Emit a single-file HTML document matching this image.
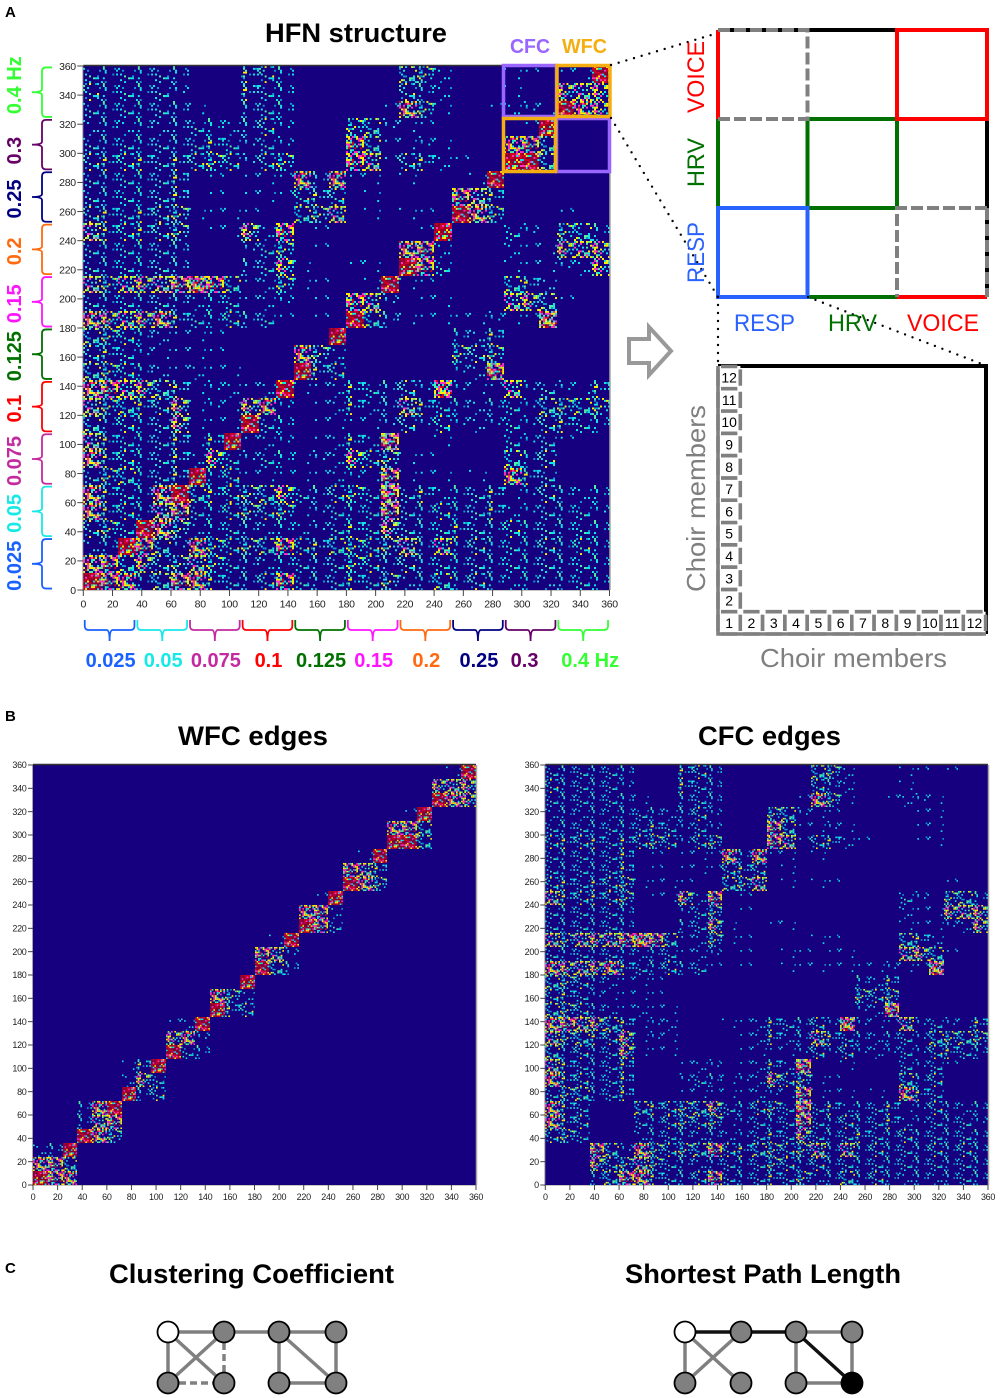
<!DOCTYPE html>
<html lang="en">
<head>
<meta charset="utf-8">
<title>HFN structure figure</title>
<style>
html,body{margin:0;padding:0;background:#fff;}
svg{display:block;font-family:"Liberation Sans",sans-serif;}
.title{font-weight:bold;font-size:27px;fill:#000;}
.panel{font-weight:bold;font-size:15px;fill:#000;}
.big{font-size:24px;}
.grey{font-size:26px;fill:#7f7f7f;}
</style>
</head>
<body>
<svg id="figure" xmlns="http://www.w3.org/2000/svg" width="1000" height="1398" viewBox="0 0 1000 1398">
  <defs id="defs"></defs>
  <rect x="0" y="0" width="1000" height="1398" fill="#fff"/>

  <text class="panel" x="5" y="17">A</text>
  <text class="panel" x="5" y="721">B</text>
  <text class="panel" x="5" y="1273">C</text>

  <text class="title" x="265" y="42" textLength="182" lengthAdjust="spacingAndGlyphs">HFN structure</text>
  <text class="title" x="178" y="745" textLength="150" lengthAdjust="spacingAndGlyphs">WFC edges</text>
  <text class="title" x="698" y="745" textLength="143" lengthAdjust="spacingAndGlyphs">CFC edges</text>
  <text class="title" x="109" y="1283" textLength="285" lengthAdjust="spacingAndGlyphs">Clustering Coefficient</text>
  <text class="title" x="625" y="1283" textLength="276" lengthAdjust="spacingAndGlyphs">Shortest Path Length</text>

  <g id="plots"></g>
  <g id="brackets"></g>

  <!-- highlight boxes on panel A -->
  <g fill="none" stroke-width="3.5">
    <rect x="503.5" y="65.5" width="53" height="51" stroke="#9966ff"/>
    <rect x="556.5" y="118.5" width="53" height="53" stroke="#9966ff"/>
    <rect x="557" y="65.5" width="53" height="51" stroke="#f5ae10"/>
    <rect x="503.5" y="118.5" width="52" height="53" stroke="#f5ae10"/>
  </g>
  <text x="510" y="53" font-weight="bold" font-size="20" fill="#9966ff" textLength="40" lengthAdjust="spacingAndGlyphs">CFC</text>
  <text x="562" y="53" font-weight="bold" font-size="20" fill="#f5ae10" textLength="45" lengthAdjust="spacingAndGlyphs">WFC</text>

  <!-- 3x3 modality grid -->
  <g fill="none" stroke-width="4">
    <path d="M718 30H987M987 30V297" stroke="#000"/>
    <path d="M718 30V119" stroke="#ff0000"/>
    <path d="M718 119V208" stroke="#007000"/>
    <path d="M807.5 297H897" stroke="#007000"/>
    <path d="M897 297H987" stroke="#ff0000"/>
    <rect x="807.5" y="119" width="89.5" height="89" stroke="#007000"/>
    <rect x="718" y="208" width="89.5" height="89" stroke="#2a62ff"/>
    <rect x="897" y="30" width="90" height="89" stroke="#ff0000"/>
    <path d="M718 30H807.5V119H718" stroke="#808080" stroke-dasharray="12 4"/>
    <path d="M987 208H897V297M987 208V297" stroke="#808080" stroke-dasharray="12 4"/>
  </g>

  <!-- dotted zoom connectors -->
  <g fill="none" stroke="#000" stroke-width="2.4" stroke-linecap="round" stroke-dasharray="0 8">
    <path d="M611 65L718 33"/>
    <path d="M611 118L718 297"/>
    <path d="M718 297V366"/>
    <path d="M808 297L987 366"/>
  </g>

  <text class="big" transform="translate(704,113) rotate(-90)" fill="#ff0000" textLength="72" lengthAdjust="spacingAndGlyphs">VOICE</text>
  <text class="big" transform="translate(704,187) rotate(-90)" fill="#007000" textLength="49" lengthAdjust="spacingAndGlyphs">HRV</text>
  <text class="big" transform="translate(704,283) rotate(-90)" fill="#2a62ff" textLength="61" lengthAdjust="spacingAndGlyphs">RESP</text>
  <text class="big" x="734" y="331" fill="#2a62ff" textLength="61" lengthAdjust="spacingAndGlyphs">RESP</text>
  <text class="big" x="828" y="331" fill="#007000" textLength="49" lengthAdjust="spacingAndGlyphs">HRV</text>
  <text class="big" x="907" y="331" fill="#ff0000" textLength="72" lengthAdjust="spacingAndGlyphs">VOICE</text>

  <polygon points="629,339 649,339 649,327 671,351 649,375 649,363 629,363" fill="#fff" stroke="#999" stroke-width="4"/>

  <!-- choir member matrix -->
  <path d="M718 366H986V634" fill="none" stroke="#000" stroke-width="4"/>
  <g id="choir"></g>
  <text class="grey" transform="translate(705,592) rotate(-90)" textLength="187" lengthAdjust="spacingAndGlyphs">Choir members</text>
  <text class="grey" x="760" y="667" textLength="187" lengthAdjust="spacingAndGlyphs">Choir members</text>

  <g id="graphs"></g>
</svg>

<script>
// Chart data -----------------------------------------------------------------
const axisTicks = [0,20,40,60,80,100,120,140,160,180,200,220,240,260,280,300,320,340,360];
const bandNames = ['0.025','0.05','0.075','0.1','0.125','0.15','0.2','0.25','0.3','0.4 Hz'];
const bandColors = ['#1a62ff','#18e8e8','#c42aa0','#ff0000','#007000','#ff14ff','#ff6a10','#000080','#660066','#33ff33'];
const choirMembers = [1,2,3,4,5,6,7,8,9,10,11,12];

// Within-frequency density per band: 3x3 (modality) blocks, rows bottom to top.
const wfcBands = [
  [[9,7,7],[7,7,5],[2,3,9]],
  [[9,7,5],[3,6,7],[3,7,9]],
  [[9,3,4],[2,6,3],[1,4,9]],
  [[9,3,3],[6,7,2],[1,2,9]],
  [[9,4,4],[7,5,2],[0,0,9]],
  [[9,5,3],[7,6,2],[0,1,9]],
  [[9,7,3],[7,7,2],[0,1,9]],
  [[9,7,5],[7,6,4],[0,1,9]],
  [[9,9,5],[7,7,5],[0,1,9]],
  [[9,7,6],[6,6,6],[0,1,9]]
];

// Cross-frequency density, one value per 12x12 node block. Rows listed top to bottom.
const cfcRows = [
  [3,3,3,3,3,3,0,0,0,4,4,3,0,0,0,0,0,0,5,5,2,0,0,0,1,1,0,1,0,0],
  [4,3,3,3,3,2,0,0,0,4,3,3,0,0,0,0,0,0,4,3,2,0,0,0,1,0,0,0,0,0],
  [3,3,3,3,3,3,1,0,0,3,3,3,0,0,0,0,0,1,7,5,1,0,0,1,2,2,1,0,0,0],
  [2,3,2,3,2,3,3,3,2,3,4,2,0,0,0,5,5,2,1,1,0,0,0,0,0,1,1,0,0,0],
  [3,3,3,3,3,3,3,4,3,2,3,2,0,0,0,7,5,1,1,2,1,0,0,0,0,1,1,0,0,0],
  [4,4,4,4,3,4,4,5,4,2,4,5,0,0,0,7,6,1,4,4,2,1,0,0,0,1,1,0,0,0],
  [3,3,3,3,3,4,0,1,0,1,1,1,7,3,7,1,1,0,1,0,0,0,0,0,0,0,0,0,0,0],
  [3,3,3,3,3,4,0,1,0,1,1,1,4,4,4,0,1,0,0,0,0,0,0,0,0,0,0,0,0,0],
  [4,4,3,4,4,5,1,1,1,1,0,0,5,5,6,0,1,0,1,1,0,0,0,0,0,0,0,1,0,0],
  [6,4,4,4,4,5,0,1,1,6,2,7,0,1,0,0,0,0,0,0,0,0,0,0,3,2,0,5,5,3],
  [3,3,3,3,3,3,0,0,0,2,3,5,0,1,0,0,0,0,0,0,0,0,0,0,2,1,1,6,6,6],
  [3,3,3,3,3,3,0,0,0,3,3,6,1,0,0,1,1,0,0,0,0,0,0,0,1,1,1,2,2,6],
  [6,5,6,6,6,7,8,7,5,1,2,5,1,1,0,0,0,0,1,1,0,0,0,0,5,4,2,0,0,0],
  [3,3,3,3,3,3,2,3,3,1,2,2,0,1,0,0,1,1,0,1,1,0,0,0,6,6,5,1,0,0],
  [7,6,6,6,7,4,3,3,4,3,3,1,0,1,0,0,1,1,1,1,1,1,1,2,1,1,8,0,0,0],
  [5,5,4,3,2,1,1,1,0,0,0,0,0,0,0,0,0,0,0,0,0,3,2,4,0,0,0,0,0,0],
  [4,4,3,2,1,1,1,1,0,0,0,0,0,0,0,0,0,0,0,0,0,5,4,5,0,0,0,0,0,0],
  [5,5,4,3,2,1,2,1,1,0,0,0,0,0,0,0,0,0,0,0,0,2,2,8,0,0,0,0,0,0],
  [7,7,6,6,5,4,1,2,2,0,0,0,1,1,2,4,3,3,4,2,8,2,1,1,6,2,3,2,1,4],
  [6,5,5,4,4,6,1,2,1,0,0,0,0,1,2,4,2,3,6,4,3,3,2,3,3,2,5,5,5,5],
  [5,3,4,3,3,6,1,1,1,0,0,0,0,1,1,1,1,2,4,2,4,2,2,2,3,2,4,4,3,3],
  [6,4,3,3,3,4,0,0,0,1,2,2,0,1,2,4,2,8,0,0,1,0,0,0,3,2,3,1,0,0],
  [7,4,4,3,3,4,0,0,0,2,3,3,1,2,2,6,4,5,1,1,0,0,0,0,5,3,4,0,0,0],
  [3,5,5,3,3,4,0,0,0,1,1,1,1,1,2,2,1,7,1,1,1,0,1,0,7,4,3,0,0,0],
  [7,4,3,0,0,0,5,4,4,5,5,6,3,3,4,5,3,8,3,4,2,3,3,4,1,2,4,3,2,3],
  [7,4,4,0,0,0,3,3,4,5,4,5,1,2,3,3,3,7,3,3,4,3,3,4,2,2,3,3,3,2],
  [4,5,3,0,0,0,2,3,3,3,2,3,2,2,3,4,3,6,3,3,3,4,3,3,4,3,3,3,3,3],
  [0,0,0,7,5,2,7,5,4,5,5,7,4,4,5,5,4,5,6,3,6,3,4,3,3,3,4,3,4,3],
  [0,0,0,6,4,5,6,5,3,3,2,3,3,3,3,5,4,3,4,3,3,3,3,3,3,3,3,3,3,3],
  [0,0,0,3,5,7,7,4,3,3,4,7,3,3,3,4,3,5,2,3,5,3,4,3,2,3,2,3,3,3]
];

// Graph nodes are (column, row) in a 4x2 lattice.
const clusteringEdges = [[0,0,1,0,'g'],[1,0,2,0,'g'],[2,0,3,0,'g'],[0,0,0,1,'g'],[0,0,1,1,'g'],[1,0,0,1,'g'],[1,0,1,1,'d'],[0,1,1,1,'d'],[2,0,2,1,'g'],[2,0,3,1,'g'],[3,0,3,1,'g'],[2,1,3,1,'g']];
const pathEdges = [[0,0,1,0,'k'],[1,0,2,0,'k'],[2,0,3,0,'g'],[0,0,0,1,'g'],[0,0,1,1,'g'],[1,0,0,1,'g'],[2,0,2,1,'g'],[2,0,3,1,'k'],[3,0,3,1,'g'],[2,1,3,1,'g']];

// Rendering helpers ----------------------------------------------------------
const SVGNS = 'http://www.w3.org/2000/svg';
const NAVY = '#170080';
const NODES = 360;
const NODES_PER_CELL = 12;

function make(tag, attrs, parent) {
  const el = document.createElementNS(SVGNS, tag);
  for (const k in attrs) el.setAttribute(k, attrs[k]);
  parent.appendChild(el);
  return el;
}

// Speckle texture: each density level gets a fill tile that mimics the noisy cells.
const CY='#10e4e4', TE='#0a9ad0', GR='#50f0a0', YE='#fbf000', PK='#ff30c0', RE='#d00020', DR='#8e0030';
const levelFill = [0,.035,.07,.14,.21,.30,.42,.58,.75,1];
const levelColors = [[],[CY,TE],[CY,TE,CY],[CY,TE,CY,GR],[CY,TE,GR,CY,YE],[CY,YE,TE,GR,CY],[CY,YE,PK,GR,YE],[YE,PK,CY,YE,GR,PK,RE],[YE,PK,CY,YE,RE,GR,PK],[DR,RE,DR,YE,RE,DR,PK,RE,CY,DR]];

// Fixed scatter order of tile positions (purely a visual texture, not data).
function tileOrder(total, seed) {
  const order = [];
  for (let i = 0; i < total; i++) order.push(i);
  let s = seed;
  for (let i = total - 1; i > 0; i--) {
    s = (Math.imul(s, 1103515245) + 12345) & 0x7fffffff;
    const j = (s >>> 8) % (i + 1);
    const t = order[i]; order[i] = order[j]; order[j] = t;
  }
  return order;
}

function buildTextures() {
  const defs = document.getElementById('defs');
  const G = 9, total = G * G;
  [4711, 90210].forEach(function (seed, variant) {
    const order = tileOrder(total, seed);
    for (let lvl = 1; lvl <= 9; lvl++) {
      const p = make('pattern', {id:'lvl'+lvl+'v'+variant, patternUnits:'objectBoundingBox', patternContentUnits:'objectBoundingBox', x:0, y:0, width:1, height:1}, defs);
      
      
      make('rect', {x:0, y:0, width:1, height:1, fill:NAVY}, p);
      const count = Math.round(levelFill[lvl] * total);
      const colors = levelColors[lvl];
      for (let k = 0; k < count; k++) {
        const idx = order[k];
        make('rect', {x:(idx % G)/G, y:Math.floor(idx / G)/G, width:1/G+.002, height:1/G+.002, fill:colors[k % colors.length]}, p);
      }
    }
  });
}

function cfcAt(r, c) { return cfcRows[cfcRows.length - 1 - r][c]; }
function wfcAt(r, c) {
  const band = Math.floor(r / 3);
  if (band !== Math.floor(c / 3)) return 0;
  return wfcBands[band][r % 3][c % 3];
}
function hfnAt(r, c) { return Math.max(wfcAt(r, c), cfcAt(r, c)); }

function xAxis(plot, v) { return plot.x0 + (plot.x1 - plot.x0) * v / NODES; }
function yAxis(plot, v) { return plot.y0 + (plot.y1 - plot.y0) * v / NODES; }

function fillFor(v, r, c) {
  const lvl = Math.max(0, Math.min(9, Math.round(v)));
  if (lvl === 0) return NAVY;
  return 'url(#lvl' + lvl + 'v' + ((r * 2 + c) % 2) + ')';
}

function drawHeatmap(plot, valueAt, name) {
  const root = document.getElementById('plots');
  const g = make('g', {}, root);
  
  
  const bg = make('rect', {x:plot.x0, y:plot.y1, width:plot.x1-plot.x0, height:plot.y0-plot.y1, fill:NAVY}, g);
  
  
  const cellsN = NODES / NODES_PER_CELL;
  for (let r = 0; r < cellsN; r++) {
    for (let c = 0; c < cellsN; c++) {
      const x0 = Math.round(xAxis(plot, c * NODES_PER_CELL));
      const x1 = Math.round(xAxis(plot, (c + 1) * NODES_PER_CELL));
      const yb = Math.round(yAxis(plot, r * NODES_PER_CELL));
      const yt = Math.round(yAxis(plot, (r + 1) * NODES_PER_CELL));
      const cell = make('rect', {x:x0, y:yt, width:x1-x0, height:yb-yt, fill:fillFor(valueAt(r, c), r, c), 'shape-rendering':'crispEdges'}, g);
      
      
    }
  }
  const top = make('line', {x1:plot.x0, x2:plot.x1, y1:plot.y1-.5, y2:plot.y1-.5, stroke:'#333', 'stroke-width':1.5}, g);
  
  
  const right = make('line', {x1:plot.x1+.5, x2:plot.x1+.5, y1:plot.y1, y2:plot.y0, stroke:'#a8a8a0', 'stroke-width':1.5}, g);
  
  
  const left = make('line', {x1:plot.x0-.5, x2:plot.x0-.5, y1:plot.y1, y2:plot.y0+1, stroke:'#a8a8a0', 'stroke-width':1}, g);
  
  
  const bottom = make('line', {x1:plot.x0, x2:plot.x1, y1:plot.y0+.5, y2:plot.y0+.5, stroke:'#c8c8c0', 'stroke-width':1}, g);
  
  

  axisTicks.forEach(function (v) {
    const px = xAxis(plot, v), py = yAxis(plot, v);
    const xt = make('line', {x1:px, x2:px, y1:plot.y0, y2:plot.y0+plot.tick, stroke:'#444', 'stroke-width':1}, g);
    
    
    const yt = make('line', {x1:plot.x0-plot.tick, x2:plot.x0, y1:py, y2:py, stroke:'#444', 'stroke-width':1}, g);
    
    
    const xl = make('text', {x:px, y:plot.y0+plot.tick+plot.font+1, 'text-anchor':'middle', 'font-size':plot.font, fill:'#222', 'letter-spacing':'-0.3'}, g);
    xl.textContent = v;
    
    
    const yl = make('text', {x:plot.x0-plot.tick-1.5, y:py+plot.font*.36, 'text-anchor':'end', 'font-size':plot.font, fill:'#222', 'letter-spacing':'-0.3'}, g);
    yl.textContent = v;
    
    
  });
}

function drawBrackets(plot) {
  const root = document.getElementById('brackets');
  bandNames.forEach(function (label, i) {
    const a = i * 36 + 1, b = (i + 1) * 36 - 1, mid = i * 36 + 18;
    const color = bandColors[i];
    const x0 = xAxis(plot, a), x1 = xAxis(plot, b), xm = xAxis(plot, mid);
    const hd = 'M'+x0+' 620L'+x0+' 626Q'+x0+' 630 '+(x0+4)+' 630L'+(xm-3)+' 630Q'+xm+' 630 '+xm+' 641Q'+xm+' 630 '+(xm+3)+' 630L'+(x1-4)+' 630Q'+x1+' 630 '+x1+' 626L'+x1+' 620';
    const hb = make('path', {d:hd, fill:'none', stroke:color, 'stroke-width':1.8}, root);
    
    
    const hShift = i === 9 ? 7 : (i === 8 ? -6 : 1);
    const hl = make('text', {x:xm + hShift, y:667, 'text-anchor':'middle', 'font-size':20, 'font-weight':'bold', fill:color}, root);
    hl.textContent = label;
    
    

    const y0 = yAxis(plot, a), y1 = yAxis(plot, b), ym = yAxis(plot, mid);
    const vd = 'M52 '+y0+'L46 '+y0+'Q42 '+y0+' 42 '+(y0-4)+'L42 '+(ym+3)+'Q42 '+ym+' 32 '+ym+'Q42 '+ym+' 42 '+(ym-3)+'L42 '+(y1+4)+'Q42 '+y1+' 46 '+y1+'L52 '+y1;
    const vb = make('path', {d:vd, fill:'none', stroke:color, 'stroke-width':1.8}, root);
    
    
    const shift = i === 9 ? -7 : (i === 8 ? 6 : 2);
    const vl = make('text', {transform:'translate(21,'+(ym+shift)+') rotate(-90)', 'text-anchor':'middle', 'font-size':20, 'font-weight':'bold', fill:color}, root);
    vl.textContent = label;
    
    
  });
}

function drawChoir() {
  const root = document.getElementById('choir');
  const step = 22.3, left = 718, bottom = 634;
  const white = make('rect', {x:left, y:366, width:step, height:268, fill:'#fff'}, root);
  
  
  choirMembers.forEach(function (m, i) {
    const bx = left + i * step;
    const cb = make('rect', {x:bx, y:bottom-step, width:step, height:step, fill:'#fff', stroke:'#808080', 'stroke-width':3.6, 'stroke-dasharray':'16.3 6', 'stroke-dashoffset':'-3'}, root);
    
    
    const tb = make('text', {x:bx+step/2, y:bottom-6, 'text-anchor':'middle', 'font-size':14, fill:'#000'}, root);
    tb.textContent = m;
    
    
    if (i > 0) {
      const by = bottom - (i + 1) * step;
      const cl = make('rect', {x:left, y:by, width:step, height:step, fill:'#fff', stroke:'#808080', 'stroke-width':3.6, 'stroke-dasharray':'16.3 6', 'stroke-dashoffset':'-3'}, root);
      
      
      const tl = make('text', {x:left+step/2, y:by+step/2+5, 'text-anchor':'middle', 'font-size':14, fill:'#000'}, root);
      tl.textContent = m;
      
      
    }
  });
  const spine = make('path', {d:'M718 366V634H986', fill:'none', stroke:'#808080', 'stroke-width':3.6}, root);
  
  
}

function drawGraph(xs, edges, endNode, name) {
  const root = document.getElementById('graphs');
  const ys = [1332, 1383];
  const g = make('g', {}, root);
  
  
  edges.forEach(function (e) {
    const style = e[4];
    const line = make('line', {x1:xs[e[0]], y1:ys[e[1]], x2:xs[e[2]], y2:ys[e[3]], stroke:style === 'k' ? '#111' : '#808080', 'stroke-width':3.5}, g);
    if (style === 'd') line.setAttribute('stroke-dasharray', '7 4');
    
    
  });
  for (let row = 0; row < 2; row++) {
    for (let col = 0; col < 4; col++) {
      let fill = '#808080';
      if (row === 0 && col === 0) fill = '#fff';
      if (endNode && row === 1 && col === 3) fill = '#000';
      const node = make('circle', {cx:xs[col], cy:ys[row], r:10.5, fill:fill, stroke:'#000', 'stroke-width':1.8}, g);
      
      
    }
  }
}

// Draw everything ------------------------------------------------------------
buildTextures();
const plotA = {x0:83.3, x1:609.5, y0:590, y1:66, tick:6, font:10.5};
const plotW = {x0:33, x1:476, y0:1185, y1:765, tick:5, font:9};
const plotC = {x0:545.3, x1:988, y0:1185, y1:765, tick:5, font:9};
drawHeatmap(plotA, hfnAt, 'hfn');
drawHeatmap(plotW, wfcAt, 'wfc');
drawHeatmap(plotC, cfcAt, 'cfc');
drawBrackets(plotA);
drawChoir();
drawGraph([168,224,279,336], clusteringEdges, false, 'clustering-coefficient-graph');
drawGraph([685,741,796,852], pathEdges, true, 'shortest-path-graph');
</script>
</body>
</html>
